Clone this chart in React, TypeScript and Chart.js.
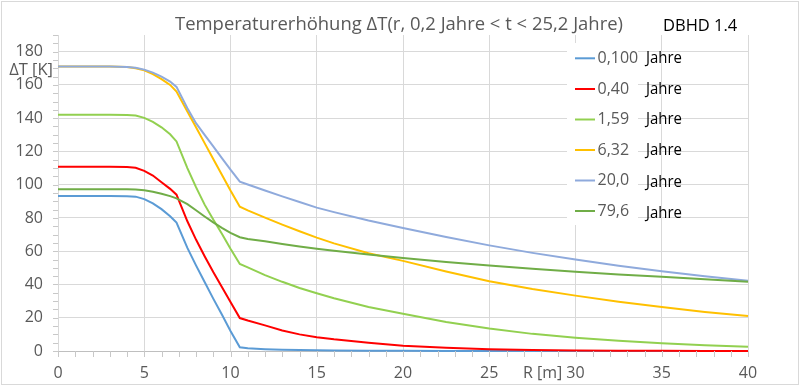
import React, { useEffect, useRef } from 'react';
import { Chart, registerables } from 'chart.js';

Chart.register(...registerables);

// Radius R [m]
const R_M = [0, 1, 2, 3, 4, 4.5, 5, 5.5, 6, 6.5, 6.87, 7.5, 8, 8.5, 9, 9.5, 10, 10.54, 11, 12, 13, 14, 15, 16, 18, 20, 22.5, 25, 27.5, 30, 32.5, 35, 37.5, 40];

// Temperature rise ΔT [K] per time
const DT_0_100 = [93.2, 93.2, 93.2, 93.2, 93.1, 92.8, 91.3, 88.8, 85.3, 81, 77.2, 62, 51.5, 41.5, 31.5, 22, 12, 2.2, 1.6, 1.1, 0.8, 0.6, 0.4, 0.3, 0.2, 0.1, 0.05, 0.03, 0.02, 0.01, 0, 0, 0, 0];
const DT_0_40 = [110.8, 110.8, 110.8, 110.8, 110.7, 110.2, 108.3, 105.5, 101.5, 97.5, 94, 78, 67, 57, 47.5, 38.5, 29.5, 19.8, 18.3, 15.4, 12.3, 10, 8.3, 7, 5, 3.2, 2, 1.1, 0.6, 0.3, 0.15, 0.1, 0.05, 0];
const DT_1_59 = [142, 142, 142, 142, 141.9, 141.6, 140.2, 137.8, 134.5, 130.3, 126, 110, 98.5, 88, 79, 70.5, 61.5, 52.3, 50.3, 45.6, 41.6, 37.9, 34.7, 31.7, 26.5, 22.4, 17.5, 13.5, 10.3, 8, 6.1, 4.6, 3.5, 2.6];
const DT_6_32 = [171, 171, 171, 171, 170.7, 170, 168.8, 166.5, 163.5, 160, 156, 144, 134.5, 125, 115.5, 106, 96.5, 86.8, 84.6, 80.2, 76, 72, 68.2, 64.7, 58.8, 54.2, 47.8, 42, 37.3, 33.3, 29.6, 26.4, 23.5, 21];
const DT_20_0 = [171, 171, 171, 171, 170.8, 170.3, 169.2, 167.4, 165, 162, 158.8, 146, 137, 130, 123, 116, 109, 101.8, 100.1, 96.5, 93, 89.6, 86.2, 83.5, 78.5, 74, 68.5, 63.5, 59, 55, 51.3, 48, 45, 42.2];
const DT_79_6 = [97.3, 97.3, 97.3, 97.3, 97.3, 97.1, 96.6, 95.8, 94.6, 93.1, 91.8, 88.3, 84.6, 80.9, 77.3, 74, 71, 68.4, 67.4, 66, 64.4, 62.9, 61.5, 60.3, 58, 55.9, 53.5, 51.4, 49.4, 47.6, 46, 44.6, 43.1, 41.7];

const SERIES_LABELS = ['0,100', '0,40', '1,59', '6,32', '20,0', '79,6'];
const SERIES_VALUES = [DT_0_100, DT_0_40, DT_1_59, DT_6_32, DT_20_0, DT_79_6];
const SERIES_COLORS = ['#5B9BD5', '#FF0000', '#92D050', '#FFC000', '#8FAADC', '#70AD47'];
const UNIT_LABEL = 'Jahre';

const TITLE = 'Temperaturerhöhung ΔT(r, 0,2 Jahre < t < 25,2 Jahre)';
const TAG = 'DBHD 1.4';
const Y_LABEL = 'ΔT [K]';
const X_LABEL = 'R [m]';

const FONT = "'Open Sans', 'Noto Sans', sans-serif";
const GRAY = '#595959';

function drawFitted(ctx: CanvasRenderingContext2D, text: string, x: number, y: number, maxW: number, align: CanvasTextAlign) {
  const w = ctx.measureText(text).width;
  const s = Math.min(1, maxW / w);
  ctx.save();
  ctx.translate(x, y);
  ctx.scale(s, 1);
  ctx.textAlign = align;
  ctx.fillText(text, 0, 0);
  ctx.restore();
}

const decorPlugin = {
  id: 'decor',
  beforeDraw(chart: any) {
    const ctx = chart.ctx as CanvasRenderingContext2D;
    ctx.save();
    ctx.fillStyle = '#ffffff';
    ctx.fillRect(0, 0, chart.width, chart.height);
    ctx.restore();
  },
  afterDraw(chart: any) {
    const ctx = chart.ctx as CanvasRenderingContext2D;
    const xs = chart.scales.x;
    const ys = chart.scales.y;
    const area = chart.chartArea;
    ctx.save();

    // minor ticks
    ctx.strokeStyle = '#c8c8c8';
    ctx.lineWidth = 1;
    ctx.beginPath();
    for (let v = 0; v <= 40; v += 1) {
      const px = Math.round(xs.getPixelForValue(v)) + 0.5;
      ctx.moveTo(px, area.bottom);
      ctx.lineTo(px, area.bottom + 6);
    }
    for (let v = 0; v <= 190; v += 5) {
      const py = Math.round(ys.getPixelForValue(v)) + 0.5;
      ctx.moveTo(area.left - 5, py);
      ctx.lineTo(area.left, py);
    }
    ctx.stroke();

    // legend box
    ctx.fillStyle = '#ffffff';
    ctx.fillRect(567, 43, 71, 182);
    const legendY = [58.3, 89, 119.5, 150, 180.5, 211];
    const unitY = [59, 89.5, 120, 151, 182.5, 213.5];
    ctx.textBaseline = 'middle';
    SERIES_LABELS.forEach((lab, i) => {
      ctx.strokeStyle = SERIES_COLORS[i];
      ctx.lineWidth = 2;
      ctx.beginPath();
      ctx.moveTo(575, legendY[i]);
      ctx.lineTo(595, legendY[i]);
      ctx.stroke();
      ctx.fillStyle = GRAY;
      ctx.font = `16px ${FONT}`;
      ctx.textAlign = 'left';
      ctx.fillText(lab, 597.5, legendY[i]);
      ctx.fillStyle = '#000000';
      ctx.font = `15.5px ${FONT}`;
      drawFitted(ctx, UNIT_LABEL, 646, unitY[i], 36, 'left');
    });

    // title
    ctx.textBaseline = 'alphabetic';
    ctx.fillStyle = GRAY;
    ctx.font = `19px ${FONT}`;
    drawFitted(ctx, TITLE, 399, 29.5, 448, 'center');

    // tag
    ctx.fillStyle = '#000000';
    ctx.font = `16.5px ${FONT}`;
    drawFitted(ctx, TAG, 663, 30.5, 75, 'left');

    // axis labels
    ctx.textBaseline = 'middle';
    ctx.fillStyle = GRAY;
    ctx.font = `16.5px ${FONT}`;
    drawFitted(ctx, Y_LABEL, 53, 70, 45, 'right');
    ctx.font = `16px ${FONT}`;
    drawFitted(ctx, X_LABEL, 523, 373.5, 41, 'left');

    // outer border
    ctx.strokeStyle = '#d9d9d9';
    ctx.lineWidth = 1;
    ctx.strokeRect(1.5, 1.5, chart.width - 3, chart.height - 3);
    ctx.restore();
  },
};

export default function App() {
  const ref = useRef<HTMLCanvasElement>(null);
  useEffect(() => {
    const canvas = ref.current;
    if (!canvas) return;
    const datasets = SERIES_VALUES.map((vals, i) => ({
      label: `${SERIES_LABELS[i]} ${UNIT_LABEL}`,
      data: R_M.map((x, j) => ({ x, y: vals[j] })),
      borderColor: SERIES_COLORS[i],
      backgroundColor: SERIES_COLORS[i],
      borderWidth: 2,
      pointRadius: 0,
      pointHoverRadius: 0,
      tension: 0,
      fill: false,
      clip: 4,
      order: SERIES_VALUES.length - i,
    }));
    const chart = new Chart(canvas, {
      type: 'line',
      data: { datasets },
      plugins: [decorPlugin],
      options: {
        responsive: false,
        animation: false,
        devicePixelRatio: 1,
        layout: { padding: { top: 35, right: 52, left: 0, bottom: 0 } },
        plugins: {
          legend: { display: false },
          title: { display: false },
          tooltip: { enabled: false },
        },
        scales: {
          x: {
            type: 'linear',
            min: 0,
            max: 40,
            ticks: {
              stepSize: 5,
              padding: 13,
              color: GRAY,
              font: { family: FONT, size: 16 },
              maxRotation: 0,
              autoSkip: false,
            },
            grid: { color: '#d9d9d9', drawTicks: false, lineWidth: 1 },
            border: { display: true, color: '#bfbfbf' },
            afterFit: (s: any) => { s.height = 35; },
          },
          y: {
            type: 'linear',
            min: 0,
            max: 190,
            ticks: {
              stepSize: 20,
              includeBounds: false,
              padding: 15,
              color: GRAY,
              font: { family: FONT, size: 16 },
            },
            grid: { color: '#d9d9d9', drawTicks: false, lineWidth: 1 },
            border: { display: true, color: '#d9d9d9' },
            afterFit: (s: any) => { s.width = 58; },
          },
        },
      } as any,
    });
    return () => chart.destroy();
  }, []);
  return (
    <div style={{ position: 'fixed', left: 0, top: 0, width: 800, height: 386, background: '#fff' }}>
      <canvas ref={ref} width={800} height={386} style={{ display: 'block', width: 800, height: 386 }} />
    </div>
  );
}
